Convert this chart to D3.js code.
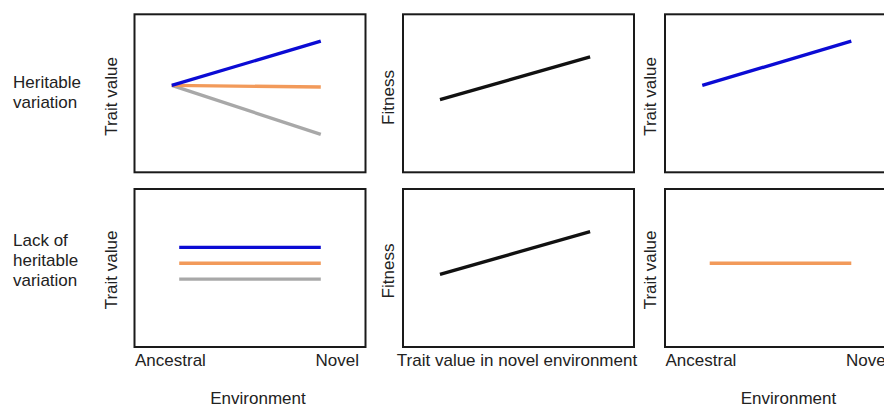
<!DOCTYPE html>
<html>
<head>
<meta charset="utf-8">
<script src="https://cdn.jsdelivr.net/npm/d3@7/dist/d3.min.js"></script>
<style>
  html, body { margin: 0; padding: 0; background: #fff; overflow: hidden; }
  svg { display: block; }
  text { font-family: "Liberation Sans", Arial, sans-serif; font-size: 17px; fill: #222; }
</style>
</head>
<body>
<svg id="chart" width="884" height="407"></svg>
<script>
// Environments on the x axis of the reaction-norm panels
const environments = ["Ancestral", "Novel"];
const envXHeritable = [0, 1];
const envXLack = [0.05, 1];

// Genotype colours (blue, orange, grey)
const genotypeColors = ["#0b0bd4", "#f29a5a", "#a8a8a8"];

// Trait values per genotype, heritable variation row
const heritableAncestral = [5.5, 5.5, 5.5];
const heritableNovel = [8.3, 5.4, 2.4];

// Trait values per genotype, lack of heritable variation row
const lackAncestral = [6.3, 5.3, 4.3];
const lackNovel = [6.3, 5.3, 4.3];

// Fitness as a function of trait value in the novel environment
const fitnessTrait = [1.6, 8.1];
const fitnessValue = [4.6, 7.3];

// Genotype that persists after selection in each row
const selectedHeritable = 0;
const selectedLack = 1;

// Text
const rowLabels = [["Heritable", "variation"], ["Lack of", "heritable", "variation"]];
const traitLabel = "Trait value";
const fitnessLabel = "Fitness";
const envTitle = "Environment";
const fitnessXTitle = "Trait value in novel environment";

const svg = d3.select("#chart");

// Panel frames
const colLeft = [134.5, 403, 665];
const panelW = 231;
const rowTop = [14.3, 189];
const panelH = 158;

const envDomain = [-0.25, 1.3];
const yDomain = [0, 10];
const fitXDomain = [0, 10];

function frame(col, row) {
  const x0 = colLeft[col], y0 = rowTop[row];
  svg.append("rect")
    .attr("x", x0).attr("y", y0)
    .attr("width", panelW).attr("height", panelH)
    .attr("fill", "none").attr("stroke", "#1a1a1a").attr("stroke-width", 2);
  return {
    x0, y0,
    y: d3.scaleLinear().domain(yDomain).range([y0 + panelH, y0])
  };
}

function drawSeries(pts, x, y, color) {
  const line = d3.line().x(d => x(d[0])).y(d => y(d[1]));
  svg.append("path")
    .datum(pts)
    .attr("d", line)
    .attr("fill", "none")
    .attr("stroke", color)
    .attr("stroke-width", 3.3)
    .attr("stroke-linecap", "butt");
}

function yLabel(text, xBase, yMid) {
  svg.append("text")
    .attr("transform", `translate(${xBase},${yMid}) rotate(-90)`)
    .attr("text-anchor", "middle")
    .text(text);
}

// Row 0 and row 1 data bundles
const rows = [
  { anc: heritableAncestral, nov: heritableNovel, envX: envXHeritable, sel: selectedHeritable },
  { anc: lackAncestral, nov: lackNovel, envX: envXLack, sel: selectedLack }
];

const yLabelMid = [96.5, 270];
const labelBaseX = [117, 393.5, 656];

rows.forEach((r, row) => {
  // Left column: reaction norms of all genotypes
  const p0 = frame(0, row);
  const x0 = d3.scaleLinear().domain(envDomain).range([p0.x0, p0.x0 + panelW]);
  // draw grey first so blue sits on top
  [2, 1, 0].forEach(g => {
    drawSeries([[r.envX[0], r.anc[g]], [r.envX[1], r.nov[g]]], x0, p0.y, genotypeColors[g]);
  });
  yLabel(traitLabel, labelBaseX[0], yLabelMid[row]);

  // Middle column: selection gradient
  const p1 = frame(1, row);
  const x1 = d3.scaleLinear().domain(fitXDomain).range([p1.x0, p1.x0 + panelW]);
  drawSeries(fitnessTrait.map((t, i) => [t, fitnessValue[i]]), x1, p1.y, "#111");
  yLabel(fitnessLabel, labelBaseX[1], yLabelMid[row] + 1);

  // Right column: genotype remaining after selection
  const p2 = frame(2, row);
  const x2 = d3.scaleLinear().domain(envDomain).range([p2.x0, p2.x0 + panelW]);
  const g = r.sel;
  drawSeries([[r.envX[0], r.anc[g]], [r.envX[1], r.nov[g]]], x2, p2.y, genotypeColors[g]);
  yLabel(traitLabel, labelBaseX[2], yLabelMid[row]);
});

// Row labels
const rowLabelBase = [87.5, 246];
rowLabels.forEach((lines, row) => {
  lines.forEach((t, i) => {
    svg.append("text")
      .attr("x", 13)
      .attr("y", rowLabelBase[row] + i * 20)
      .text(t);
  });
});

// Environment tick labels under left and right bottom panels
[0, 2].forEach(col => {
  const left = colLeft[col];
  svg.append("text").attr("x", left + 0.5).attr("y", 366).attr("text-anchor", "start").text(environments[0]);
  svg.append("text").attr("x", left + panelW - 6.5).attr("y", 366).attr("text-anchor", "end").text(environments[1]);
  svg.append("text").attr("x", left + panelW / 2 + 8).attr("y", 404).attr("text-anchor", "middle").text(envTitle);
});

// Middle x-axis title
svg.append("text")
  .attr("x", colLeft[1] + panelW / 2 - 1.5)
  .attr("y", 366)
  .attr("text-anchor", "middle")
  .text(fitnessXTitle);
</script>
</body>
</html>
